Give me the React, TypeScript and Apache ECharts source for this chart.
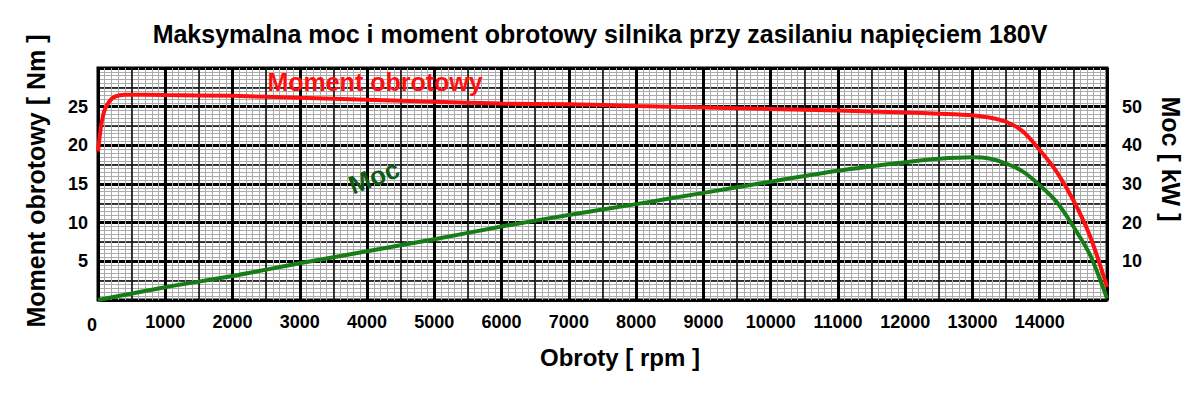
import React, { useEffect, useRef } from "react";
import * as echarts from "echarts";

const torqueRpm = [0, 30, 60, 100, 170, 250, 400, 1000, 2000, 3000, 4000, 5000, 6000, 7000, 8000, 9000, 10000, 11000, 12000, 12500, 13000, 13250, 13500, 13750, 14000, 14250, 14500, 14750, 15000];
const torqueNm = [19.2, 21.5, 23.2, 24.6, 25.7, 26.3, 26.55, 26.5, 26.4, 26.15, 25.9, 25.65, 25.4, 25.3, 25.1, 24.9, 24.7, 24.5, 24.25, 24.1, 23.9, 23.6, 23.05, 21.8, 19.4, 16.6, 12.9, 8.2, 1.7];

const powerRpm = [0, 1000, 2000, 3000, 4000, 5000, 6000, 7000, 8000, 9000, 10000, 11000, 12000, 12500, 13000, 13250, 13500, 13750, 14000, 14250, 14500, 14750, 15000];
const powerKw = [0, 3.3, 6.2, 9.5, 12.6, 15.7, 19.0, 22.0, 24.8, 27.7, 30.6, 33.4, 35.6, 36.5, 36.9, 36.6, 35.3, 33.2, 29.7, 25.4, 19.0, 11.6, 0.4];

const xTickLabels = ["1000", "2000", "3000", "4000", "5000", "6000", "7000", "8000", "9000", "10000", "11000", "12000", "13000", "14000"];
const leftTickLabels = ["5", "10", "15", "20", "25"];
const rightTickLabels = ["10", "20", "30", "40", "50"];

const FONT = "'Liberation Sans', Arial, sans-serif";

export default function App() {
  const ref = useRef<HTMLDivElement>(null);
  useEffect(() => {
    document.body.style.margin = "0";
    const chart = echarts.init(ref.current!, null, { renderer: "svg" });
    const hidden = { show: false };
    const labelStyle = { color: "#000", fontFamily: FONT, fontWeight: "bold" as const, fontSize: 18 };
    const option: any = {
      animation: false,
      backgroundColor: "#fff",
      title: {
        text: "Maksymalna moc i moment obrotowy silnika przy zasilaniu napięciem 180V",
        left: "center",
        top: 16,
        textStyle: { fontFamily: FONT, fontWeight: "bold", fontSize: 25, color: "#000" },
      },
      grid: {
        left: 98, right: 93, top: 68, bottom: 95,
        show: true, backgroundColor: "#fff", borderColor: "#000", borderWidth: 3,
      },
      xAxis: [
        { type: "value", position: "bottom", min: 0, max: 15000, interval: 100, axisLine: hidden, axisTick: hidden, axisLabel: hidden,
          splitLine: { show: true, lineStyle: { color: "#ababab", width: 1 } } },
        { type: "value", position: "bottom", min: 0, max: 15000, interval: 500, axisLine: hidden, axisTick: hidden, axisLabel: hidden,
          splitLine: { show: true, lineStyle: { color: "#000", width: 1.5 } } },
        { type: "value", position: "bottom", min: 0, max: 15000, interval: 1000, axisLine: hidden, axisTick: hidden,
          axisLabel: { ...labelStyle, margin: 13, formatter: (v: number) => (xTickLabels.includes(String(v)) ? String(v) : "") },
          splitLine: { show: true, lineStyle: { color: "#000", width: 3 } } },
      ],
      yAxis: [
        { type: "value", position: "left", min: 0, max: 30, interval: 0.5, axisLine: hidden, axisTick: hidden, axisLabel: hidden,
          splitLine: { show: true, lineStyle: { color: "#ababab", width: 1 } } },
        { type: "value", position: "left", min: 0, max: 30, interval: 2.5, axisLine: hidden, axisTick: hidden, axisLabel: hidden,
          splitLine: { show: true, lineStyle: { color: "#000", width: 1.5 } } },
        { type: "value", position: "left", min: 0, max: 30, interval: 5, axisLine: hidden, axisTick: hidden,
          axisLabel: { ...labelStyle, margin: 10, formatter: (v: number) => (leftTickLabels.includes(String(v)) ? String(v) : "") },
          splitLine: { show: true, lineStyle: { color: "#000", width: 3 } } },
        { type: "value", position: "right", min: 0, max: 60, interval: 10, axisLine: hidden, axisTick: hidden,
          axisLabel: { ...labelStyle, margin: 15, formatter: (v: number) => (rightTickLabels.includes(String(v)) ? String(v) : "") },
          splitLine: hidden },
      ],
      series: [
        {
          type: "line", name: "Moment obrotowy", xAxisIndex: 2, yAxisIndex: 2,
          data: torqueRpm.map((r, i) => [r, torqueNm[i]]),
          showSymbol: false, smooth: 0.3,
          lineStyle: { color: "#ff1010", width: 4 }, z: 5,
        },
        {
          type: "line", name: "Moc", xAxisIndex: 2, yAxisIndex: 3,
          data: powerRpm.map((r, i) => [r, powerKw[i]]),
          showSymbol: false, smooth: 0.3,
          lineStyle: { color: "#167d16", width: 4 }, z: 5,
        },
      ],
      graphic: [
        { type: "text", x: 92, y: 325, z: 10,
          style: { text: "0", fill: "#000", font: `bold 18px ${FONT}`, textAlign: "center", textVerticalAlign: "middle" } },
        { type: "text", x: 620, y: 357, z: 10,
          style: { text: "Obroty [ rpm ]", fill: "#000", font: `bold 24px ${FONT}`, textAlign: "center", textVerticalAlign: "middle" } },
        { type: "text", x: 36, y: 181, rotation: Math.PI / 2, z: 10,
          style: { text: "Moment obrotowy [ Nm ]", fill: "#000", font: `bold 25px ${FONT}`, textAlign: "center", textVerticalAlign: "middle" } },
        { type: "text", x: 1171, y: 159, rotation: -Math.PI / 2, z: 10,
          style: { text: "Moc [ kW ]", fill: "#000", font: `bold 25px ${FONT}`, textAlign: "center", textVerticalAlign: "middle" } },
        { type: "text", x: 375, y: 82, z: 10,
          style: { text: "Moment obrotowy", fill: "#ff1010", font: `bold 25px ${FONT}`, textAlign: "center", textVerticalAlign: "middle" } },
        { type: "text", x: 374, y: 177, rotation: 0.37, z: 10,
          style: { text: "Moc", fill: "#0f5a14", font: `bold 26px ${FONT}`, textAlign: "center", textVerticalAlign: "middle" } },
      ],
    };
    chart.setOption(option);
    return () => chart.dispose();
  }, []);
  return <div ref={ref} style={{ position: "fixed", left: 0, top: 0, width: 1200, height: 395 }} />;
}
